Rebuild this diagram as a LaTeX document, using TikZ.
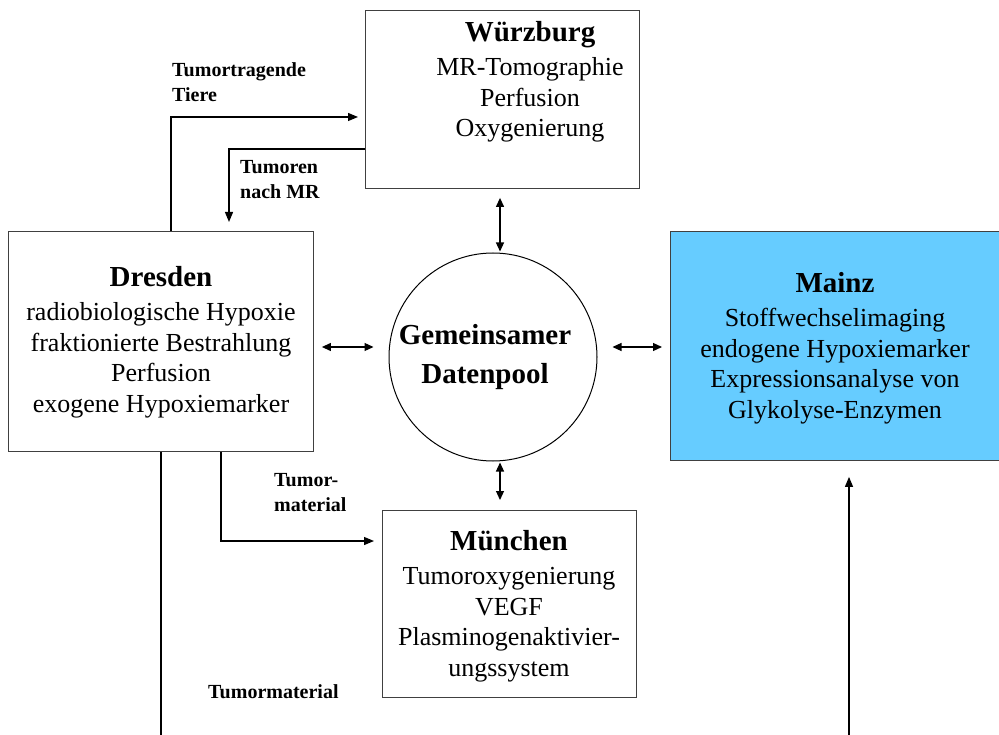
\documentclass[tikz,border=0pt]{standalone}
\usepackage{fontspec}
\setmainfont{Liberation Serif}
\usetikzlibrary{arrows.meta,positioning}
\definecolor{mainzblue}{RGB}{102,204,255}
\tikzset{
  box/.style={draw=black!75, line width=0.9pt, anchor=north west, inner sep=0pt},
  boxtext/.style={align=center, font=\fontsize{26}{30.5}\selectfont, inner sep=0pt},
  lbl/.style={align=left, anchor=west, font=\fontsize{20}{25}\selectfont\bfseries, inner sep=0pt},
  conn/.style={line width=1.2pt},
  arr/.style={conn, -{Triangle[length=10pt,width=8pt]}},
  dbl/.style={conn, {Triangle[length=9pt,width=8pt]}-{Triangle[length=9pt,width=8pt]}},
}
\newcommand{\ttl}[1]{{\fontsize{29}{34}\selectfont\bfseries #1}}

\begin{document}
\begin{tikzpicture}[x=1pt, y=-1pt]
  \clip[use as bounding box] (0,0) rectangle (999,735);
  \fill[white] (0,0) rectangle (999,735);

  % Standorte
  \node[box, minimum width=274pt, minimum height=178pt] (wuerzburg) at (365,10) {};
  \node[box, minimum width=305pt, minimum height=220pt] (dresden) at (8,231) {};
  \node[box, fill=mainzblue, minimum width=340pt, minimum height=229pt] (mainz) at (670,231) {};
  \node[box, minimum width=254pt, minimum height=187pt] (muenchen) at (382,510) {};
  \node[circle, draw=black, line width=1pt, minimum size=208pt, inner sep=0pt] (pool) at (493,357) {};
  \node[align=center, inner sep=0pt, font=\fontsize{29}{39}\selectfont\bfseries] (pooltext) at (485,357)
        {Gemeinsamer\\Datenpool};

  \node[boxtext] (wuerzburgtext) at (530,82) {\ttl{Würzburg}\\[3.5pt]MR-Tomographie\\Perfusion\\Oxygenierung};
  \node[boxtext] (dresdentext) at (161,342) {\ttl{Dresden}\\[3.5pt]radiobiologische Hypoxie\\fraktionierte Bestrahlung\\Perfusion\\exogene Hypoxiemarker};
  \node[boxtext] (mainztext) at (835,348) {\ttl{Mainz}\\[3.5pt]Stoffwechselimaging\\endogene Hypoxiemarker\\Expressionsanalyse von\\Glykolyse-Enzymen};
  \node[boxtext] (muenchentext) at (509,606) {\ttl{München}\\[3.5pt]Tumoroxygenierung\\VEGF\\Plasminogenaktivier-\\ungssystem};

  % Datenpool
  \coordinate (poolx) at (500,0);
  \coordinate (pooly) at (0,347);
  \draw[dbl, shorten <=9pt, shorten >=1pt] (wuerzburg.south -| poolx) -- (pool.north -| poolx);
  \draw[dbl, shorten <=1pt, shorten >=10pt] (pool.south -| poolx) -- (muenchen.north -| poolx);
  \draw[dbl, shorten <=8pt, shorten >=15pt] (dresden.east |- pooly) -- (pool.west |- pooly);
  \draw[dbl, shorten <=15pt, shorten >=8pt] (pool.east |- pooly) -- (mainz.west |- pooly);

  % Materialfluss
  \coordinate (tiere) at (171,117);
  \draw[arr, shorten >=7pt] (dresden.north -| tiere) |- (wuerzburg.west |- tiere);
  \coordinate (nachmr) at (229,149);
  \draw[arr, shorten >=9pt] (wuerzburg.west |- nachmr) -| (dresden.north -| nachmr);
  \coordinate (material) at (221,541);
  \draw[arr, shorten >=8pt] (dresden.south -| material) |- (muenchen.west |- material);
  \coordinate (tmend) at (161,735);
  \draw[conn] (dresden.south -| tmend) -- (tmend);
  \coordinate (mzstart) at (849,735);
  \draw[arr, shorten >=16pt] (mzstart) -- (mainz.south -| mzstart);

  \node[lbl] (tierelbl) at (172,82.5) {Tumortragende\\Tiere};
  \node[lbl] (nachmrlbl) at (240,179.5) {Tumoren\\nach MR};
  \node[lbl] (materiallbl) at (274,493) {Tumor-\\material};
  \node[lbl] (tmlbl) at (208,692) {Tumormaterial};
\end{tikzpicture}
\end{document}
